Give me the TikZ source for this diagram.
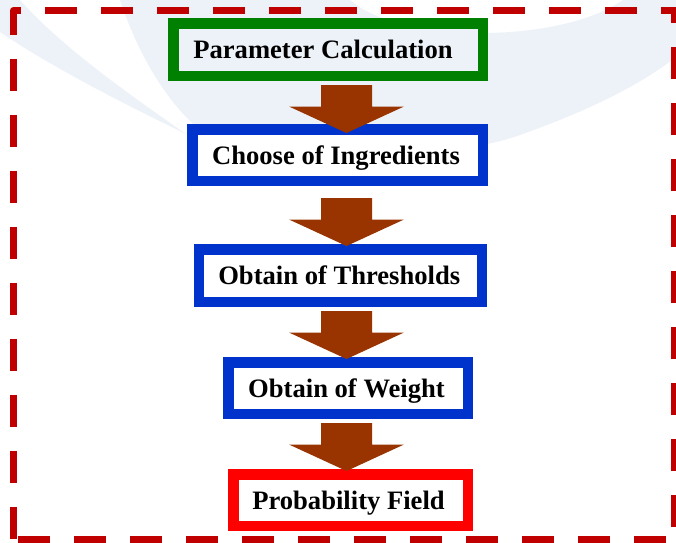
\documentclass[tikz,border=0pt]{standalone}
\usepackage{fontspec}
\setmainfont{Liberation Serif}
\definecolor{swoosh}{RGB}{237,242,248}
\definecolor{borderred}{RGB}{192,0,0}
\definecolor{boxgreen}{RGB}{0,128,0}
\definecolor{boxblue}{RGB}{0,51,204}
\definecolor{boxred}{RGB}{255,0,0}
\definecolor{arrowbrown}{RGB}{153,51,0}
\begin{document}
\begin{tikzpicture}[x=1pt,y=-1pt,
  stepbox/.style={draw, line width=10.5pt, fill=white, inner sep=0pt,
    font=\fontsize{26.6}{30}\selectfont\bfseries, text height=18pt, text depth=0pt},
  outline/.style={borderred, line width=7pt, dash pattern=on 32pt off 24pt},
  downarr/.pic={\fill[arrowbrown] (-25.5,0) -- (25.5,0) -- (25.5,21.5) -- (57.5,21.5)
      -- (0,48) -- (-57.5,21.5) -- (-25.5,21.5) -- cycle;}]
\useasboundingbox (0,0) rectangle (676,542);
\fill[white] (0,0) rectangle (676,542);
% background swooshes
\fill[swoosh] (0,0) -- (20,0) .. controls (60,45) and (120,88) .. (186,134)
  .. controls (120,102) and (50,66) .. (0,32) -- cycle;
\fill[swoosh] (120,0) -- (350,0) .. controls (400,44) and (560,44) .. (623,0)
  -- (676,0) -- (676,57) .. controls (640,85) and (590,110) .. (520,135)
  .. controls (450,160) and (300,165) .. (200,130)
  .. controls (170,105) and (140,60) .. (120,0) -- cycle;
% dashed frame
\draw[outline, line join=round] (13.5,539) -- (13.5,10.5) -- (674,10.5);
\draw[outline, dash phase=6.5pt] (661,10.5) -- (674,10.5) -- (674,539);
\draw[outline] (18,539) -- (674,539);
% boxes
\node[stepbox, draw=boxgreen, fill=swoosh, minimum width=309.5pt, minimum height=52.5pt]
  (b1) at (328,49.5) {\hspace*{-10pt}Parameter Calculation};
\node[stepbox, draw=boxblue, minimum width=290.5pt, minimum height=51.5pt]
  (b2) at (337.5,155) {\hspace*{-3pt}Choose of Ingredients};
\node[stepbox, draw=boxblue, minimum width=283pt, minimum height=52.5pt]
  (b3) at (340.25,275.5) {\hspace*{-2pt}Obtain of Thresholds};
\node[stepbox, draw=boxblue, minimum width=239.5pt, minimum height=51.5pt]
  (b4) at (348,388) {\hspace*{-3pt}Obtain of Weight};
\node[stepbox, draw=boxred, minimum width=234.5pt, minimum height=51.5pt]
  (b5) at (350.5,500) {\hspace*{-4pt}Probability Field};
% arrows
\coordinate (a1) at (346.5,85);
\coordinate (a2) at (346.5,198);
\coordinate (a3) at (346.5,311);
\coordinate (a4) at (346.5,423);
\pic at (a1) {downarr};
\pic at (a2) {downarr};
\pic at (a3) {downarr};
\pic at (a4) {downarr};
\end{tikzpicture}
\end{document}
